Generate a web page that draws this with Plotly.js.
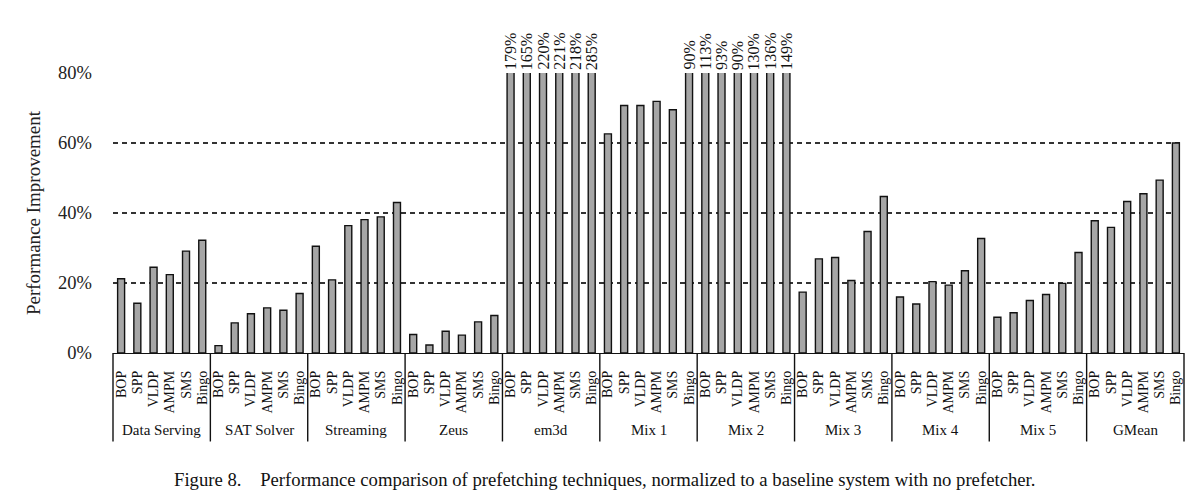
<!DOCTYPE html>
<html>
<head>
<meta charset="utf-8">
<script src="https://cdn.plot.ly/plotly-3.0.1.min.js"></script>
<style>
    body { margin: 0; background: #fff; }
    #chart { width: 1200px; height: 503px; }
</style>
</head>
<body>
<div id="chart"></div>
<script>
// benchmark groups and prefetchers
const groups = ['Data Serving', 'SAT Solver', 'Streaming', 'Zeus', 'em3d', 'Mix 1', 'Mix 2', 'Mix 3', 'Mix 4', 'Mix 5', 'GMean']
const prefetchers = ['BOP', 'SPP', 'VLDP', 'AMPM', 'SMS', 'Bingo']

// performance improvement (%) per prefetcher, one value per group
const bop   = [21.2,  2.1, 30.5,  5.3, 179, 62.6, 113, 17.4, 16.0, 10.2, 37.8]
const spp   = [14.2,  8.6, 20.9,  2.3, 165, 70.7,  93, 26.9, 14.0, 11.5, 35.9]
const vldp  = [24.5, 11.2, 36.4,  6.2, 220, 70.7,  90, 27.3, 20.4, 15.0, 43.3]
const ampm  = [22.4, 12.9, 38.1,  5.1, 221, 71.9, 130, 20.7, 19.4, 16.7, 45.5]
const sms   = [29.1, 12.2, 38.9,  8.9, 218, 69.5, 136, 34.7, 23.5, 19.9, 49.4]
const bingo = [32.2, 17.0, 43.0, 10.7, 285, 90.0, 149, 44.7, 32.7, 28.7, 60.0]

const yTicks = [0, 20, 40, 60, 80]
const yMax = 80
const caption = 'Figure 8.\u00a0\u00a0\u00a0\u00a0Performance comparison of prefetching techniques, normalized to a baseline system with no prefetcher.'

const serif = 'Liberation Serif, Times New Roman, serif'

function plotPrefetchChart() {
    const chart = document.getElementById('chart')
    const series = [bop, spp, vldp, ampm, sms, bingo]
    const n = groups.length * prefetchers.length

    // flatten: group-major, prefetcher-minor
    const x = []
    const y = []
    const tickText = []
    groups.forEach((g, gi) => {
        prefetchers.forEach((p, pi) => {
            x.push(gi * prefetchers.length + pi)
            y.push(series[pi][gi])
            tickText.push(p)
        })
    })

    const trace = {
        type: 'bar',
        x,
        y,
        marker: {
            color: '#a6a6a6',
            line: { color: '#111', width: 1.4 }
        },
        hoverinfo: 'y'
    }

    // labels for bars that run off the top
    const annotations = []
    y.forEach((v, i) => {
        if (v > yMax) {
            annotations.push({
                x: x[i], y: yMax, xref: 'x', yref: 'y',
                text: v + '%', showarrow: false,
                textangle: -90, yanchor: 'bottom', yshift: 1,
                font: { family: serif, size: 16, color: '#111' }
            })
        }
    })

    // group names under the prefetcher labels
    groups.forEach((g, gi) => {
        annotations.push({
            x: gi * prefetchers.length + (prefetchers.length - 1) / 2, xref: 'x',
            y: -0.274, yref: 'paper',
            text: g, showarrow: false, yanchor: 'middle',
            font: { family: serif, size: 15, color: '#111' }
        })
    })

    annotations.push({
        x: 0.055, xref: 'paper', xanchor: 'left',
        y: -0.4525, yref: 'paper', yanchor: 'middle',
        text: caption, showarrow: false,
        font: { family: serif, size: 18.7, color: '#111' }
    })

    // group separators
    const shapes = []
    for (let gi = 0; gi <= groups.length; gi++) {
        const xp = gi * prefetchers.length / n
        shapes.push({
            type: 'line', xref: 'paper', yref: 'paper',
            x0: xp, x1: xp, y0: 0, y1: -0.316,
            line: { color: '#111', width: 1.4 }
        })
    }

    const layout = {
        width: 1200,
        height: 503,
        margin: { l: 113, r: 16, t: 73, b: 150 },
        bargap: 0.57,
        showlegend: false,
        paper_bgcolor: '#fff',
        plot_bgcolor: '#fff',
        xaxis: {
            range: [-0.5, n - 0.5],
            tickmode: 'array',
            tickvals: x,
            ticktext: tickText,
            tickangle: -90,
            ticks: '',
            ticklabelstandoff: 11,
            tickfont: { family: serif, size: 14, color: '#111' },
            showgrid: false,
            zeroline: false,
            showline: true,
            linecolor: '#111',
            linewidth: 1.4
        },
        yaxis: {
            range: [0, yMax],
            tickmode: 'array',
            tickvals: yTicks,
            ticktext: yTicks.map(t => t + '%'),
            ticks: '',
            ticklabelstandoff: 20,
            tickfont: { family: serif, size: 18.5, color: '#222' },
            showgrid: true,
            gridcolor: '#333',
            gridwidth: 1.5,
            griddash: '5px,4px',
            zeroline: false,
            showline: false,
            title: {
                text: 'Performance Improvement',
                standoff: 12,
                font: { family: serif, size: 19, color: '#222' }
            }
        },
        annotations,
        shapes
    }

    Plotly.newPlot(chart, [trace], layout, { displayModeBar: false, responsive: false })
}

plotPrefetchChart()
</script>
</body>
</html>
